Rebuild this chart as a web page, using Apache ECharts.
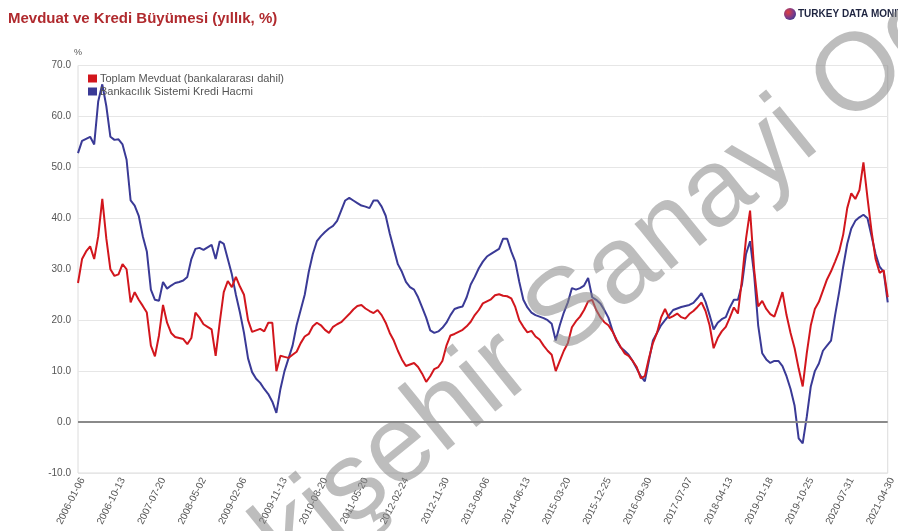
<!DOCTYPE html>
<html>
<head>
<meta charset="utf-8">
<script src="https://cdn.jsdelivr.net/npm/echarts@6/dist/echarts.min.js"></script>
<style>
  html, body { margin: 0; padding: 0; background: #fff; }
  #chart { width: 898px; height: 531px; }
</style>
</head>
<body>
<div id="chart"></div>
<script>
// Axis tick dates (every 40 weekly observations, plus the last one)
const tickDates = ['2006-01-06','2006-10-13','2007-07-20','2008-05-02','2009-02-06','2009-11-13',
  '2010-08-20','2011-05-20','2012-02-24','2012-11-30','2013-09-06','2014-06-13','2015-03-20',
  '2015-12-25','2016-09-30','2017-07-07','2018-04-13','2019-01-18','2019-10-25','2020-07-31','2021-04-30'];

// Annual growth (%), sampled every 4 weeks
const depositGrowth = [
  27.3,32.0,33.5,34.5,32.0,36.5,43.8,36.0,30.0,28.7,
  29.0,31.0,30.0,23.5,25.5,24.0,22.8,21.5,15.0,12.9,
  17.0,23.0,19.5,17.5,16.7,16.5,16.3,15.3,16.5,21.5,
  20.5,19.2,18.7,18.2,13.0,19.5,25.5,27.7,26.5,28.5,
  26.6,25.0,20.0,17.7,18.0,18.3,17.8,19.5,19.5,10.0,
  13.0,12.8,12.6,13.2,13.8,15.5,16.8,17.3,18.8,19.5,
  19.0,18.1,17.5,18.7,19.2,19.6,20.4,21.2,22.1,22.8,
  23.0,22.3,21.8,21.4,22.0,21.0,19.5,17.5,16.0,14.0,
  12.3,11.0,11.3,11.6,10.8,9.5,7.9,9.0,10.4,10.8,
  12.0,15.0,17.0,17.3,17.7,18.1,18.8,19.7,21.0,22.0,
  23.3,23.7,24.1,24.9,25.1,24.8,24.7,24.3,22.6,20.0,
  18.7,17.6,17.9,16.8,16.2,15.0,14.0,13.2,10.0,12.0,
  14.0,15.5,18.6,19.8,20.7,22.0,23.7,24.0,22.0,20.6,
  19.6,19.0,17.8,16.2,14.8,13.5,13.0,12.0,10.8,8.6,
  9.0,12.5,15.5,17.5,20.5,22.2,20.4,20.8,21.3,20.6,
  20.3,21.2,21.8,22.6,23.5,21.8,19.0,14.5,16.5,17.8,
  18.7,20.5,22.5,21.3,28.0,36.0,41.5,30.0,22.7,23.8,
  22.2,21.2,20.7,23.0,25.5,21.0,17.5,14.5,10.5,7.0,
  13.5,19.0,22.2,23.6,25.8,28.0,29.6,31.5,33.5,36.8,
  42.0,44.9,43.8,45.5,51.0,44.0,37.5,32.0,29.3,29.8,
  24.5
];

const creditGrowth = [
  52.8,55.2,55.6,56.0,54.5,63.0,66.3,62.0,56.0,55.4,
  55.5,54.5,51.5,43.5,42.5,40.5,36.5,33.5,26.0,24.0,
  23.8,27.5,26.2,26.8,27.3,27.5,27.8,28.5,32.0,34.0,
  34.2,33.8,34.3,34.8,32.0,35.5,35.0,32.0,29.0,25.0,
  21.5,17.5,12.5,9.8,8.5,7.7,6.5,5.5,4.0,1.8,
  6.5,10.0,12.5,15.0,19.0,22.0,25.0,29.5,33.0,35.5,
  36.5,37.3,38.0,38.5,39.5,41.5,43.5,44.0,43.5,43.0,
  42.5,42.3,42.0,43.5,43.5,42.3,40.5,37.0,34.0,31.0,
  29.5,27.5,26.5,26.0,24.5,22.5,20.5,18.0,17.5,17.8,
  18.5,19.5,21.0,22.2,22.5,22.7,24.5,27.0,28.5,30.2,
  31.5,32.5,33.0,33.5,34.0,36.0,36.0,33.5,31.5,27.5,
  24.0,22.5,21.5,21.0,20.7,20.4,20.0,19.3,16.0,19.0,
  21.5,23.5,26.3,26.0,26.3,26.8,28.3,24.5,24.0,23.3,
  22.0,20.5,18.0,16.0,14.7,14.0,13.2,12.0,10.5,9.0,
  8.0,12.0,16.0,17.5,19.0,20.0,21.0,22.0,22.3,22.6,
  22.8,23.0,23.4,24.3,25.3,23.6,21.0,18.2,19.5,20.2,
  20.6,22.5,24.0,24.0,27.0,33.0,35.5,29.0,19.0,13.5,
  12.3,11.6,12.0,12.0,11.0,9.0,6.5,3.2,-3.2,-4.2,
  1.0,7.0,10.0,11.5,14.0,15.0,16.0,21.0,25.5,30.5,
  35.0,38.0,39.5,40.2,40.7,40.0,36.5,33.0,30.5,29.5,
  23.5
];

const depositName = 'Toplam Mevduat (bankalararası dahil)';
const creditName = 'Bankacılık Sistemi Kredi Hacmi';

// Category dates: 10 four-week steps between consecutive tick dates
function fmt(d) { return d.toISOString().slice(0, 10); }
const categories = [];
for (let k = 0; k < tickDates.length - 1; k++) {
  const start = new Date(tickDates[k] + 'T00:00:00Z');
  for (let j = 0; j < 10; j++) {
    categories.push(j === 0 ? tickDates[k] : fmt(new Date(start.getTime() + j * 28 * 86400000)));
  }
}
categories.push(tickDates[tickDates.length - 1]);

const FONT = '"Liberation Sans", Arial, sans-serif';
const chart = echarts.init(document.getElementById('chart'), null, { renderer: 'canvas' });

chart.setOption({
  backgroundColor: '#ffffff',
  animation: false,
  textStyle: { fontFamily: FONT },
  title: {
    text: 'Mevduat ve Kredi Büyümesi (yıllık, %)',
    left: 3, top: 6,
    textStyle: { color: '#b02a2e', fontSize: 15, fontWeight: 'bold', fontFamily: FONT }
  },
  legend: {
    data: [depositName, creditName],
    orient: 'vertical',
    left: 83, top: 68,
    itemWidth: 9, itemHeight: 8, itemGap: 2,
    icon: 'rect',
    textStyle: { color: '#555', fontSize: 11, fontFamily: FONT, padding: [0, 0, 0, -2] }
  },
  grid: {
    left: 78, right: 10, top: 65.5, bottom: 58,
    show: true, borderColor: '#dcdcdc', borderWidth: 1
  },
  xAxis: {
    type: 'category',
    boundaryGap: false,
    data: categories,
    axisLine: { show: false },
    axisTick: { show: false },
    splitLine: { show: false },
    axisLabel: {
      interval: (i) => i % 10 === 0,
      rotate: 63,
      fontSize: 10,
      color: '#555',
      margin: 3,
      verticalAlign: 'top',
      fontFamily: FONT
    }
  },
  yAxis: {
    type: 'value',
    min: -10, max: 70, interval: 10,
    name: '%',
    nameLocation: 'end',
    nameGap: 8,
    nameTextStyle: { color: '#555', fontSize: 9, align: 'left', padding: [0, 0, 0, -4] },
    axisLine: { show: false },
    axisTick: { show: false },
    axisLabel: {
      formatter: (v) => v.toFixed(1),
      fontSize: 10, color: '#555', margin: 7, fontFamily: FONT
    },
    splitLine: { lineStyle: { color: '#e6e6e6', width: 1 } }
  },
  series: [
    {
      name: creditName,
      type: 'line',
      data: creditGrowth,
      showSymbol: false,
      color: '#3a3a96',
      lineStyle: { width: 2, color: '#3a3a96' },
      markLine: {
        silent: true,
        symbol: 'none',
        label: { show: false },
        lineStyle: { color: '#8a8a8a', width: 2, type: 'solid' },
        data: [{ yAxis: 0 }]
      },
      z: 2
    },
    {
      name: depositName,
      type: 'line',
      data: depositGrowth,
      showSymbol: false,
      color: '#d2161d',
      lineStyle: { width: 2, color: '#d2161d' },
      z: 3
    }
  ],
  graphic: [
    {
      type: 'circle',
      shape: { cx: 790, cy: 14, r: 6 },
      style: {
        fill: new echarts.graphic.RadialGradient(0.35, 0.35, 0.8, [
          { offset: 0, color: '#e04040' },
          { offset: 0.6, color: '#7a3a8a' },
          { offset: 1, color: '#2a3a8a' }
        ])
      }
    },
    {
      type: 'text',
      x: 798, y: 14,
      style: {
        text: 'TURKEY DATA MONITOR',
        fill: '#1e2440',
        font: 'bold 10px ' + FONT,
        verticalAlign: 'middle',
        textVerticalAlign: 'middle'
      }
    },
    {
      type: 'text',
      x: 171, y: 635,
      rotation: 39 * Math.PI / 180,
      z: 100,
      silent: true,
      style: {
        text: 'Eskişehir Sanayi Odası',
        fill: 'rgba(135,135,135,0.55)',
        font: '110px ' + FONT,
        verticalAlign: 'middle',
        textVerticalAlign: 'middle'
      }
    }
  ]
});
</script>
</body>
</html>
